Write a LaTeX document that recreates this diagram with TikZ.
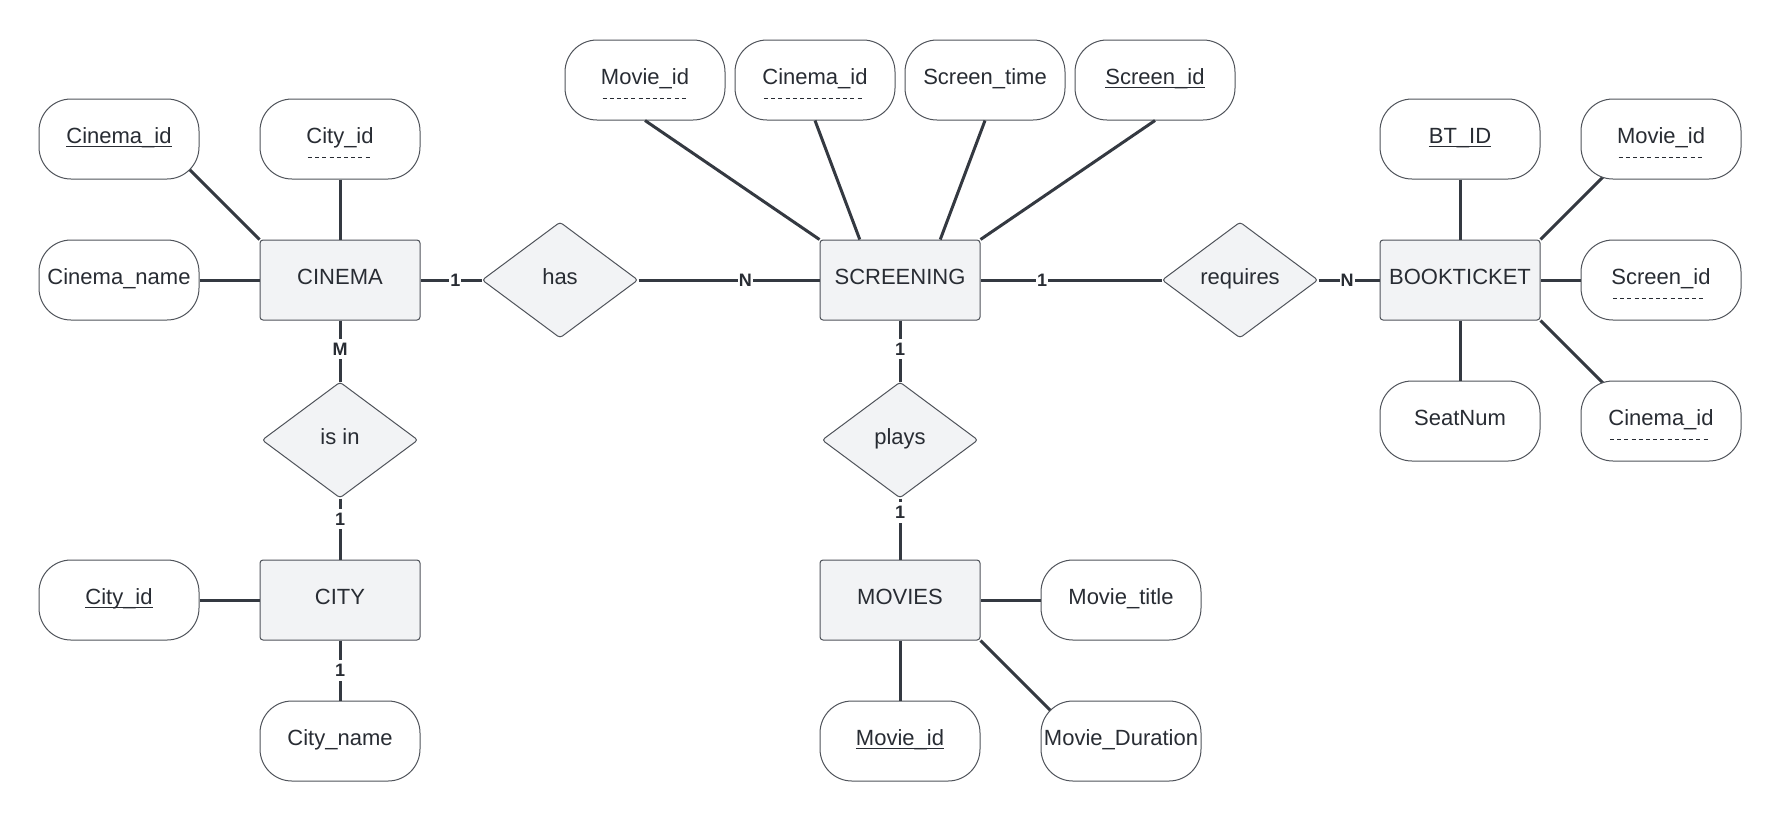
\documentclass[tikz,border=0pt]{standalone}
\usepackage{fontspec}
\setmainfont{Liberation Sans}
\usetikzlibrary{shapes.geometric, positioning, calc}
\definecolor{ink}{HTML}{282C33}
\definecolor{wirec}{HTML}{343941}
\definecolor{entfill}{HTML}{F2F3F5}
\definecolor{rim}{HTML}{4F535A}
\pgfdeclarelayer{bg}
\pgfsetlayers{bg,main}
\newcommand{\pkey}[1]{\setbox0=\hbox{#1}\copy0\llap{\rule[-1.8pt]{\wd0}{0.6pt}}}
\newcommand{\fkey}[1]{\setbox0=\hbox{#1}\copy0\llap{\smash{\raisebox{-7pt}{\hbox to \wd0{\leaders\hbox to 3.6pt{\hss\rule{2pt}{0.4pt}\hss}\hfill}}}}}

\begin{document}
\begin{tikzpicture}[
  x=0.5pt, y=-0.5pt,
  font=\fontsize{11}{13}\selectfont, text=ink,
  node distance=30pt,
  ent/.style={draw=rim, line width=0.5pt, fill=entfill, rounded corners=1.5pt,
              minimum width=80pt, minimum height=40pt, inner sep=0pt,
              text height=8pt, text depth=3.5pt},
  attr/.style={draw=rim, line width=0.5pt, fill=white, rounded corners=16pt,
               minimum width=80pt, minimum height=40pt, inner sep=0pt,
               text height=8pt, text depth=3.5pt},
  rel/.style={diamond, draw=rim, line width=0.5pt, fill=entfill,
              rounded corners=1.5pt, minimum width=78pt, minimum height=58pt,
              inner sep=0pt, text height=8pt, text depth=3.5pt},
  wire/.style={draw=wirec, line width=1.5pt},
  card/.style={font=\fontsize{9}{9}\selectfont\bfseries, fill=white,
               inner xsep=0.5pt, inner ysep=2pt}
]
\useasboundingbox (0,0) rectangle (1780,820);

\node[ent] (cinema) at (340,280) {CINEMA};
\node[ent] (screening) at (900,280) {SCREENING};
\node[ent] (bookticket) at (1460,280) {BOOKTICKET};
\node[ent] (city) at (340,600) {CITY};
\node[ent] (movies) at (900,600) {MOVIES};

\node[rel] (has) at (560,280) {has};
\node[rel] (requires) at (1240,280) {requires};
\node[rel] (isin) at (340,440) {is in};
\node[rel] (plays) at (900,440) {plays};

\node[attr, left=of cinema] (cin-name) {Cinema\_name};
\node[attr, above=of cin-name] (cin-id) {\pkey{Cinema\_id}};
\node[attr, above=of cinema] (cin-city) {\fkey{City\_id}};

\node[attr] (scr-movie) at (645,80) {\fkey{Movie\_id}};
\node[attr] (scr-cinema) at (815,80) {\fkey{Cinema\_id}};
\node[attr] (scr-time) at (985,80) {Screen\_time};
\node[attr] (scr-id) at (1155,80) {\pkey{Screen\_id}};

\node[attr, above=of bookticket] (bt-id) {\pkey{BT\_ID}};
\node[attr, below=of bookticket] (bt-seat) {SeatNum};
\node[attr, right=20pt of bookticket] (bt-screen) {\fkey{Screen\_id}};
\node[attr, above=of bt-screen] (bt-movie) {\fkey{Movie\_id}};
\node[attr, below=of bt-screen] (bt-cinema) {\fkey{Cinema\_id}};

\node[attr, left=of city] (city-id) {\pkey{City\_id}};
\node[attr, below=of city] (city-name) {City\_name};

\node[attr, right=of movies] (mov-title) {Movie\_title};
\node[attr, below=of movies] (mov-id) {\pkey{Movie\_id}};
\node[attr, right=of mov-id] (mov-dur) {Movie\_Duration};

\begin{pgfonlayer}{bg}
\draw[wire] (cinema.north west) -- ($(cinema.north west)+(-80,-80)$);
\draw[wire] (bookticket.north east) -- ($(bookticket.north east)+(80,-80)$);
\draw[wire] (bookticket.south east) -- ($(bookticket.south east)+(80,80)$);
\draw[wire] (movies.south east) -- ($(movies.south east)+(80,80)$);
\end{pgfonlayer}

\draw[wire] (cin-city) -- (cinema);
\draw[wire] (cin-name) -- (cinema);
\draw[wire] (scr-movie.south) -- (screening.north west);
\draw[wire] (scr-cinema.south) -- ($(screening.north west)!0.25!(screening.north east)$);
\draw[wire] (scr-time.south) -- ($(screening.north west)!0.75!(screening.north east)$);
\draw[wire] (scr-id.south) -- (screening.north east);
\draw[wire] (bt-id) -- (bookticket);
\draw[wire] (bt-seat) -- (bookticket);
\draw[wire] (bt-screen) -- (bookticket);
\draw[wire] (city-id) -- (city);
\draw[wire] (mov-title) -- (movies);
\draw[wire] (mov-id) -- (movies);

\draw[wire] (cinema) -- node[card, pos=0.57] {1} (has);
\draw[wire] (has) -- node[card, pos=0.59] {N} (screening);
\draw[wire] (screening) -- node[card, pos=0.34] {1} (requires);
\draw[wire] (requires) -- node[card, pos=0.47] {N} (bookticket);
\draw[wire] (cinema) -- node[card, pos=0.47] {M} (isin);
\draw[wire] (isin) -- node[card, pos=0.34] {1} (city);
\draw[wire] (city) -- node[card, pos=0.5] {1} (city-name);
\draw[wire] (screening) -- node[card, pos=0.47] {1} (plays);
\draw[wire] (plays) -- node[card, pos=0.23] {1} (movies);
\end{tikzpicture}
\end{document}
